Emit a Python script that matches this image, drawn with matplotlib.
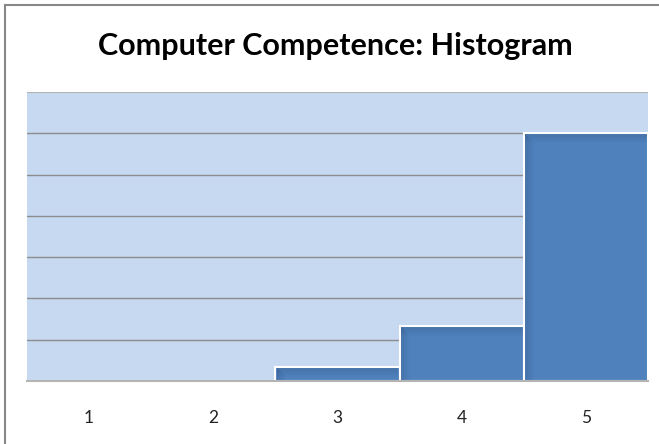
import numpy as np
import matplotlib
matplotlib.use("Agg")
import matplotlib.pyplot as plt
from matplotlib.lines import Line2D

# chart data
categories = ["1", "2", "3", "4", "5"]
counts = [0, 0, 1, 4, 18]
y_max = 21
y_step = 3

bar_color = "#4F81BD"
plot_bg = "#C6D9F1"

fig = plt.figure(figsize=(6.59, 4.44), dpi=100)
ax = fig.add_axes([27 / 659, 63 / 444, 621 / 659, 289 / 444])
ax.set_facecolor(plot_bg)

x = np.arange(1, len(categories) + 1)
ax.set_xlim(0.5, len(categories) + 0.5)
ax.set_ylim(0, y_max)

# gridlines
for yv in range(y_step, y_max, y_step):
    ax.axhline(yv, color="#8C8C8C", lw=1.0, zorder=1)
ax.axhline(y_max, color="#B4B4B4", lw=1.5, zorder=1)

ax.bar(x, counts, width=1.0, color=bar_color, edgecolor="white",
       linewidth=1.5, zorder=2)

# inner shadow along top and left of each bar
fig.canvas.draw()
inv = ax.transData.inverted()
p0 = inv.transform((0, 0))
p1 = inv.transform((1, 1))
dx_px = p1[0] - p0[0]
dy_px = p1[1] - p0[1]
n_steps = 9
for xi, h in zip(x, counts):
    if h <= 0:
        continue
    left = xi - 0.5 + 1.2 * dx_px
    right = xi + 0.5 - 1.2 * dx_px
    top = h - 1.2 * dy_px
    for k in range(n_steps):
        a = 0.16 * (1 - k / n_steps)
        ax.fill_between([left, right], top - (k + 1) * dy_px, top - k * dy_px,
                        color="#172C48", alpha=a, lw=0, zorder=3)
        ax.fill_between([left + k * dx_px, left + (k + 1) * dx_px], 0,
                        top - k * dy_px, color="#172C48", alpha=a, lw=0,
                        zorder=3)

for s in ["top", "right", "left"]:
    ax.spines[s].set_visible(False)
ax.spines["bottom"].set_color("#B4B4B4")
ax.spines["bottom"].set_linewidth(1.5)
ax.spines["bottom"].set_zorder(4)

ax.set_yticks([])
ax.set_xticks(x)
ax.set_xticklabels(categories, fontsize=12.5, family="Lato", color="#222222")
ax.tick_params(axis="x", length=0, pad=21)

fig.text(0.509, 1 - 46 / 444, "Computer Competence: Histogram",
         ha="center", va="center", fontsize=22, fontweight="bold",
         family="Lato", color="black")

# chart area border (left and top edges visible)
fig.add_artist(Line2D([5 / 659, 5 / 659], [0, 1 - 5 / 444],
                      transform=fig.transFigure, color="#888888", lw=1.5))
fig.add_artist(Line2D([5 / 659, 1], [1 - 5 / 444, 1 - 5 / 444],
                      transform=fig.transFigure, color="#888888", lw=1.5))

fig.savefig("out.png", dpi=100)
